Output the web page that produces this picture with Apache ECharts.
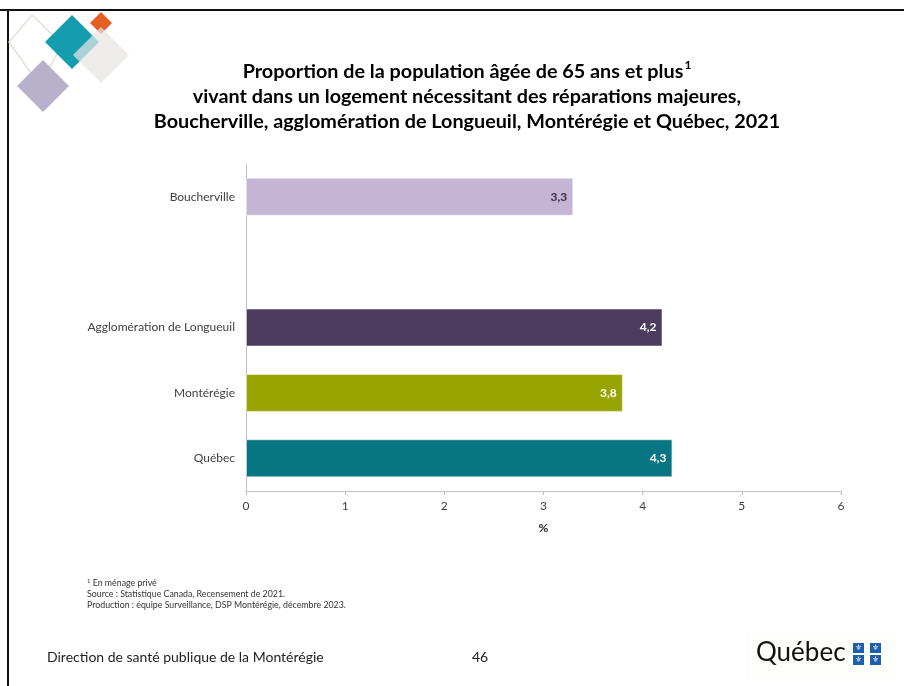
<!DOCTYPE html>
<html>
<head>
<meta charset="utf-8">
<script src="https://cdn.jsdelivr.net/npm/echarts@6/dist/echarts.min.js"></script>
<style>
  html, body { margin: 0; padding: 0; background: #ffffff; }
  #chart { width: 904px; height: 686px; }
</style>
</head>
<body>
<div id="chart"></div>
<script>
// Territories, top to bottom (empty slot separates the municipality from the regions)
const categories = ['Boucherville', '', 'Agglomération de Longueuil', 'Montérégie', 'Québec'];
// Share of people aged 65+ living in a dwelling needing major repairs (%)
const values = [3.3, null, 4.2, 3.8, 4.3];
const barColors = ['#c3b5d3', null, '#4b3b5f', '#98a400', '#087582'];
const labelColors = ['#3b3050', null, '#ffffff', '#ffffff', '#ffffff'];
const xTicks = [0, 1, 2, 3, 4, 5, 6];

const FONT = 'Lato, "Noto Sans", sans-serif';

const chart = echarts.init(document.getElementById('chart'), null, { renderer: 'canvas' });

const seriesData = values.map((v, i) => v == null ? null : ({
  value: v,
  itemStyle: { color: barColors[i], borderColor: 'rgba(255,255,255,0.5)', borderWidth: 1 },
  label: { color: labelColors[i] }
}));

// Decorative diamonds in the corner
function diamond(cx, cy, r, style) {
  return {
    type: 'polygon',
    shape: { points: [[cx, cy - r], [cx + r, cy], [cx, cy + r], [cx - r, cy]] },
    style: style,
    silent: true
  };
}

const flagStyle = { text: '⚜', fontFamily: '"DejaVu Sans"', fontSize: 8, fill: '#ffffff', textAlign: 'center', textVerticalAlign: 'middle' };

const option = {
  backgroundColor: '#ffffff',
  animation: false,
  grid: { left: 246, right: 63, top: 164, bottom: 195, containLabel: false },
  xAxis: {
    type: 'value',
    min: xTicks[0],
    max: xTicks[xTicks.length - 1],
    interval: 1,
    name: '%',
    nameLocation: 'middle',
    nameGap: 31,
    nameTextStyle: { fontFamily: FONT, fontSize: 12, fontWeight: 'bold', color: '#262626' },
    axisLine: { show: true, lineStyle: { color: '#bfbfbf', width: 1 } },
    axisTick: { show: true, length: 4, lineStyle: { color: '#bfbfbf' } },
    axisLabel: { fontFamily: FONT, fontSize: 12, color: '#404040', margin: 9 },
    splitLine: { show: false }
  },
  yAxis: {
    type: 'category',
    inverse: true,
    data: categories,
    axisLine: { show: true, lineStyle: { color: '#bfbfbf', width: 1 } },
    axisTick: { show: false },
    axisLabel: { fontFamily: FONT, fontSize: 12, color: '#404040', margin: 11 }
  },
  series: [{
    type: 'bar',
    data: seriesData,
    barWidth: 38,
    label: {
      show: true,
      position: 'insideRight',
      distance: 6,
      fontFamily: FONT,
      fontSize: 12,
      fontWeight: 'bold',
      formatter: p => p.value == null ? '' : p.value.toFixed(1).replace('.', ',')
    }
  }],
  graphic: [
    // page frame
    { type: 'rect', shape: { x: 0, y: 9, width: 904, height: 2 }, style: { fill: '#111111' }, silent: true },
    { type: 'rect', shape: { x: 7, y: 9, width: 2, height: 677 }, style: { fill: '#111111' }, silent: true },

    // corner emblem
    { type: 'polygon', silent: true,
      shape: { points: [[32, 15], [62, 44], [40, 86], [9, 42]] },
      style: { fill: 'none', stroke: '#dfe3d8', lineWidth: 1.5 } },
    diamond(43, 86, 26, { fill: '#b9b1cc' }),
    diamond(72, 42, 27, { fill: '#159cad' }),
    diamond(101, 23, 11, { fill: '#e55f25' }),
    diamond(101, 55, 28, { fill: 'rgba(232,229,227,0.72)' }),

    // title
    {
      type: 'text', x: 467, y: 59, silent: true,
      style: {
        text: 'Proportion de la population âgée de 65 ans et plus{sup|1}\nvivant dans un logement nécessitant des réparations majeures,\nBoucherville, agglomération de Longueuil, Montérégie et Québec, 2021',
        textAlign: 'center',
        fontFamily: FONT, fontSize: 19.8, fontWeight: 'bold', fill: '#000000',
        lineHeight: 25,
        rich: { sup: { fontFamily: FONT, fontSize: 12, fontWeight: 'bold', verticalAlign: 'top', padding: [0, 0, 8, 1], lineHeight: 25 } }
      }
    },

    // notes
    {
      type: 'text', left: 87, top: 578, silent: true,
      style: {
        text: '{s|1} En ménage privé\nSource : Statistique Canada, Recensement de 2021.\nProduction : équipe Surveillance, DSP Montérégie, décembre 2023.',
        fontFamily: FONT, fontSize: 8.8, fill: '#333333', lineHeight: 11,
        rich: { s: { fontSize: 6, fontFamily: FONT, fill: '#333333', padding: [0, 0, 4, 0] } }
      }
    },

    // footer
    {
      type: 'text', left: 47, top: 650, silent: true,
      style: { text: 'Direction de santé publique de la Montérégie', fontFamily: FONT, fontSize: 14, fill: '#222222' }
    },
    {
      type: 'text', left: 472, top: 650, silent: true,
      style: { text: '46', fontFamily: FONT, fontSize: 14, fill: '#222222' }
    },

    // Québec signature
    { type: 'rect', shape: { x: 746, y: 631, width: 150, height: 50 }, style: { fill: '#fdfdfc' }, silent: true },
    {
      type: 'text', left: 756, top: 640, silent: true,
      style: { text: 'Québec', fontFamily: FONT, fontSize: 26, fill: '#111111' }
    },
    { type: 'rect', shape: { x: 853, y: 643, width: 11, height: 10 }, style: { fill: '#1d5fa9' }, silent: true },
    { type: 'rect', shape: { x: 870, y: 643, width: 11, height: 10 }, style: { fill: '#1d5fa9' }, silent: true },
    { type: 'rect', shape: { x: 853, y: 655, width: 11, height: 10 }, style: { fill: '#1d5fa9' }, silent: true },
    { type: 'rect', shape: { x: 870, y: 655, width: 11, height: 10 }, style: { fill: '#1d5fa9' }, silent: true },
    { type: 'text', x: 858.5, y: 648, silent: true, style: flagStyle },
    { type: 'text', x: 875.5, y: 648, silent: true, style: flagStyle },
    { type: 'text', x: 858.5, y: 660, silent: true, style: flagStyle },
    { type: 'text', x: 875.5, y: 660, silent: true, style: flagStyle }
  ]
};

chart.setOption(option);
</script>
</body>
</html>
